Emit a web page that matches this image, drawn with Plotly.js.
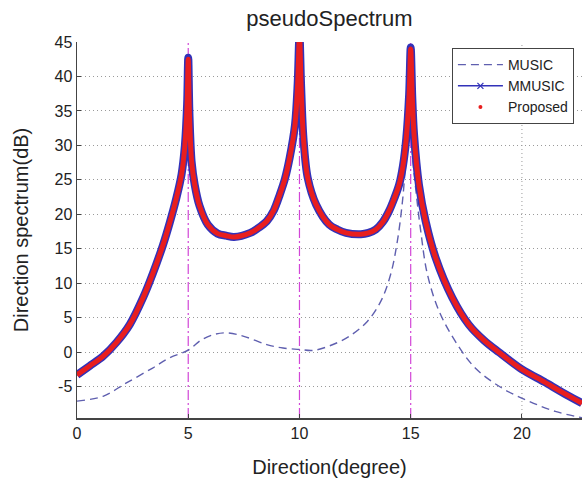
<!DOCTYPE html>
<html>
<head>
<meta charset="utf-8">
<script src="https://cdn.plot.ly/plotly-3.0.1.min.js"></script>
<style>html,body{margin:0;padding:0;background:#fff;}#chart{width:582px;height:482px;}</style>
</head>
<body>
<div id="chart"></div>
<script>
// MUSIC (dashed)
var musicX = [0, 1.17, 2.2, 3.4, 4.17, 5.0, 5.6, 6.2, 6.76, 7.5, 8.53, 9.26, 10.0, 10.6, 11.34, 12.24, 13.06, 13.66, 14.1, 14.4, 14.63, 14.78, 14.92, 15.0, 15.07, 15.22, 15.45, 15.75, 16.27, 17.0, 17.9, 19.1, 20.3, 21.5, 22.7];
var musicY = [-7.1, -6.4, -4.5, -2.3, -0.8, 0.3, 1.8, 2.6, 2.8, 2.3, 1.1, 0.6, 0.4, 0.25, 0.9, 2.3, 4.5, 7.4, 11.3, 16.1, 21.9, 27.7, 33, 35, 29, 23.9, 17.6, 11.3, 6.0, 1.6, -2.3, -5.2, -7.1, -8.6, -9.5];
// MMUSIC (solid with x markers)
var mmusicX = [0, 0.57, 1.17, 1.77, 2.37, 2.97, 3.42, 3.87, 4.17, 4.47, 4.7, 4.85, 4.95, 5.0, 5.05, 5.15, 5.29, 5.51, 5.88, 6.32, 6.7, 7.06, 7.79, 8.1, 8.53, 8.85, 9.12, 9.35, 9.56, 9.8, 9.92, 10.0, 10.07, 10.18, 10.37, 10.75, 11.34, 11.7, 12.09, 12.76, 13.1, 13.43, 13.75, 14.03, 14.25, 14.48, 14.65, 14.8, 14.93, 15.0, 15.07, 15.15, 15.37, 15.67, 16.12, 16.87, 17.61, 18.3, 18.96, 20.0, 21.0, 21.8, 22.7];
var mmusicY = [-3.3, -2.0, -0.6, 1.4, 4.0, 7.9, 11.5, 15.6, 18.8, 22.4, 25.8, 30.0, 36, 42.7, 35, 27.7, 24.3, 21.2, 18.5, 17.2, 16.9, 16.7, 17.3, 17.9, 19.0, 20.6, 22.9, 25.2, 28.2, 33, 39, 46, 39, 31, 25.3, 21.4, 18.5, 17.8, 17.3, 17.1, 17.3, 17.8, 18.9, 20.5, 22.2, 24.3, 27, 31, 37.4, 44.2, 37, 31.6, 24.3, 19.0, 13.7, 7.9, 4.0, 1.7, 0, -2.5, -4.3, -5.8, -7.4];
// Proposed (red dots) - overlaps MMUSIC
var propX = mmusicX.slice();
var propY = [-3.3, -2.0, -0.6, 1.4, 4.0, 7.9, 11.5, 15.6, 18.8, 22.4, 25.8, 30.0, 36, 42.5, 35, 27.7, 24.3, 21.2, 18.5, 17.2, 16.9, 16.7, 17.3, 17.9, 19.0, 20.6, 22.9, 25.2, 28.2, 33, 39, 46, 39, 31, 25.3, 21.4, 18.5, 17.8, 17.3, 17.1, 17.3, 17.8, 18.9, 20.5, 22.2, 24.3, 27, 31, 37.4, 44.0, 37, 31.6, 24.3, 19.0, 13.7, 7.9, 4.0, 1.7, 0, -2.5, -4.3, -5.8, -7.4];
var trueDOA = [5, 10, 15];
var xTicks = [0, 5, 10, 15, 20];
var yTicks = [-5, 0, 5, 10, 15, 20, 25, 30, 35, 40, 45];

var blue = 'rgb(50,50,185)';
var red = 'rgb(232,30,30)';
var dashBlue = 'rgb(95,95,175)';
var magenta = 'rgb(210,70,215)';
var gridCol = '#9a9a9a';

var traces = [
  {x: musicX, y: musicY, mode: 'lines', line: {color: dashBlue, width: 1.4, dash: '8px,5px', shape: 'spline', smoothing: 1}, showlegend: false, hoverinfo: 'skip'},
  {x: mmusicX, y: mmusicY, mode: 'lines', line: {color: blue, width: 8, shape: 'spline', smoothing: 0.9}, showlegend: false, hoverinfo: 'skip'},
  {x: propX, y: propY, mode: 'lines', line: {color: red, width: 5, shape: 'spline', smoothing: 0.9}, showlegend: false, hoverinfo: 'skip'},
  {x: [null], y: [null], mode: 'lines', name: 'MUSIC', line: {color: dashBlue, width: 1.4, dash: '8px,5px'}},
  {x: [null], y: [null], mode: 'lines+markers', name: 'MMUSIC', line: {color: blue, width: 1.4}, marker: {symbol: 'x-thin', size: 6, color: blue, line: {color: blue, width: 1.2}}},
  {x: [null], y: [null], mode: 'markers', name: 'Proposed', marker: {symbol: 'circle', size: 4, color: red}}
];

// vertical dotted grid only where there is no true-DOA line
var shapes = xTicks.filter(function (t) { return t !== 0 && trueDOA.indexOf(t) < 0; }).map(function (t) {
  return {type: 'line', xref: 'x', yref: 'paper', x0: t, x1: t, y0: 0, y1: 1, layer: 'below',
    line: {color: gridCol, width: 1, dash: '1px,3px'}};
}).concat(trueDOA.map(function (d) {
  return {type: 'line', xref: 'x', yref: 'paper', x0: d, x1: d, y0: 0, y1: 1, layer: 'between',
    line: {color: magenta, width: 1.2, dash: '10px,3px,2px,3px'}};
}));

var font = 'Liberation Sans, Arial, sans-serif';
var layout = {
  width: 582, height: 482,
  margin: {l: 77, r: 0, t: 42, b: 64},
  paper_bgcolor: '#fff', plot_bgcolor: '#fff',
  font: {family: font, color: '#222', size: 16},
  title: {text: 'pseudoSpectrum', x: 0.5, xref: 'paper', xanchor: 'center', y: 0.962, yref: 'container', yanchor: 'middle', font: {family: font, size: 22, color: '#222'}},
  xaxis: {
    range: [0, 22.7], tickvals: xTicks, ticktext: xTicks.map(String),
    showgrid: false,
    showline: true, linecolor: '#444', linewidth: 1.5, mirror: false,
    ticks: 'inside', ticklen: 4, tickcolor: '#444', zeroline: false,
    tickfont: {size: 16, color: '#222'},
    title: {text: 'Direction(degree)', font: {size: 20, color: '#222'}, standoff: 19}
  },
  yaxis: {
    range: [-9.55, 45], tickvals: yTicks, ticktext: yTicks.map(String),
    showgrid: true, gridcolor: gridCol, griddash: '1px,3px', gridwidth: 1,
    showline: true, linecolor: '#444', linewidth: 1.5, mirror: false,
    ticks: 'inside', ticklen: 4, tickcolor: '#444', zeroline: false,
    tickfont: {size: 16, color: '#222'},
    title: {text: 'Direction spectrum(dB)', font: {size: 20, color: '#222'}, standoff: 20}
  },
  legend: {x: 0.984, xanchor: 'right', y: 0.984, yanchor: 'top', bgcolor: '#fff', bordercolor: '#444', borderwidth: 1,
    font: {size: 14, color: '#222'}, tracegroupgap: 0, itemwidth: 45},
  shapes: shapes,
  showlegend: true
};

Plotly.newPlot('chart', traces, layout, {displayModeBar: false, staticPlot: true});
</script>
</body>
</html>
